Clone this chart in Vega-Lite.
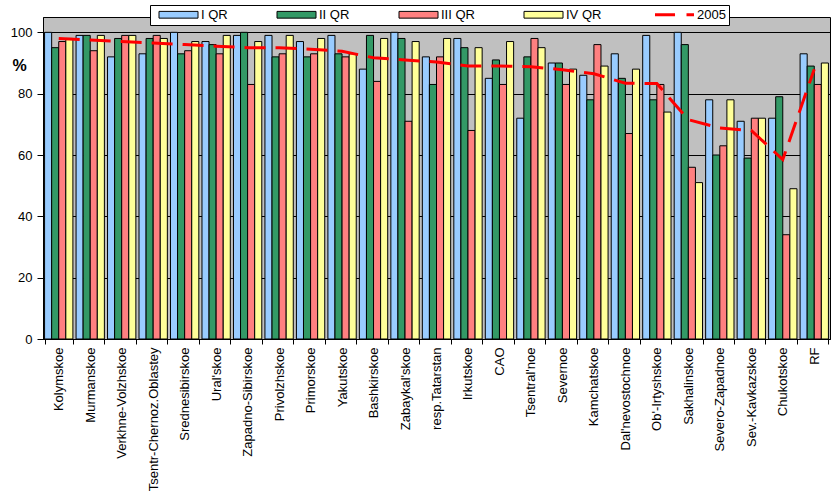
{
  "$schema": "https://vega.github.io/schema/vega-lite/v6.json",
  "width": 787,
  "height": 322,
  "autosize": {"type": "none"},
  "padding": {"left": 43, "top": 17, "right": 5, "bottom": 160},
  "background": "white",
  "config": {
    "font": "Liberation Sans",
    "view": {"fill": "#C0C0C0", "stroke": "black", "strokeWidth": 1},
    "axis": {
      "labelFont": "Liberation Sans",
      "labelFontSize": 13,
      "labelColor": "black",
      "domainColor": "black",
      "tickColor": "black",
      "gridColor": "black",
      "gridOpacity": 1,
      "titleColor": "black"
    }
  },
  "datasets": {
    "bars": [
      {"region": "Kolymskoe", "quarter": "I QR", "value": 100},
      {"region": "Kolymskoe", "quarter": "II QR", "value": 95},
      {"region": "Kolymskoe", "quarter": "III QR", "value": 97},
      {"region": "Kolymskoe", "quarter": "IV QR", "value": 98},
      {"region": "Murmanskoe", "quarter": "I QR", "value": 99},
      {"region": "Murmanskoe", "quarter": "II QR", "value": 99},
      {"region": "Murmanskoe", "quarter": "III QR", "value": 94},
      {"region": "Murmanskoe", "quarter": "IV QR", "value": 99},
      {"region": "Verkhne-Volzhskoe", "quarter": "I QR", "value": 92},
      {"region": "Verkhne-Volzhskoe", "quarter": "II QR", "value": 98},
      {"region": "Verkhne-Volzhskoe", "quarter": "III QR", "value": 99},
      {"region": "Verkhne-Volzhskoe", "quarter": "IV QR", "value": 99},
      {"region": "Tsentr-Chernoz.Oblastey", "quarter": "I QR", "value": 93},
      {"region": "Tsentr-Chernoz.Oblastey", "quarter": "II QR", "value": 98},
      {"region": "Tsentr-Chernoz.Oblastey", "quarter": "III QR", "value": 99},
      {"region": "Tsentr-Chernoz.Oblastey", "quarter": "IV QR", "value": 98},
      {"region": "Srednesibirskoe", "quarter": "I QR", "value": 100},
      {"region": "Srednesibirskoe", "quarter": "II QR", "value": 93},
      {"region": "Srednesibirskoe", "quarter": "III QR", "value": 94},
      {"region": "Srednesibirskoe", "quarter": "IV QR", "value": 97},
      {"region": "Ural'skoe", "quarter": "I QR", "value": 97},
      {"region": "Ural'skoe", "quarter": "II QR", "value": 96},
      {"region": "Ural'skoe", "quarter": "III QR", "value": 93},
      {"region": "Ural'skoe", "quarter": "IV QR", "value": 99},
      {"region": "Zapadno-Sibirskoe", "quarter": "I QR", "value": 99},
      {"region": "Zapadno-Sibirskoe", "quarter": "II QR", "value": 100},
      {"region": "Zapadno-Sibirskoe", "quarter": "III QR", "value": 83},
      {"region": "Zapadno-Sibirskoe", "quarter": "IV QR", "value": 97},
      {"region": "Privolzhskoe", "quarter": "I QR", "value": 99},
      {"region": "Privolzhskoe", "quarter": "II QR", "value": 92},
      {"region": "Privolzhskoe", "quarter": "III QR", "value": 93},
      {"region": "Privolzhskoe", "quarter": "IV QR", "value": 99},
      {"region": "Primorskoe", "quarter": "I QR", "value": 97},
      {"region": "Primorskoe", "quarter": "II QR", "value": 92},
      {"region": "Primorskoe", "quarter": "III QR", "value": 93},
      {"region": "Primorskoe", "quarter": "IV QR", "value": 98},
      {"region": "Yakutskoe", "quarter": "I QR", "value": 99},
      {"region": "Yakutskoe", "quarter": "II QR", "value": 93},
      {"region": "Yakutskoe", "quarter": "III QR", "value": 92},
      {"region": "Yakutskoe", "quarter": "IV QR", "value": 93},
      {"region": "Bashkirskoe", "quarter": "I QR", "value": 88},
      {"region": "Bashkirskoe", "quarter": "II QR", "value": 99},
      {"region": "Bashkirskoe", "quarter": "III QR", "value": 84},
      {"region": "Bashkirskoe", "quarter": "IV QR", "value": 98},
      {"region": "Zabaykal'skoe", "quarter": "I QR", "value": 100},
      {"region": "Zabaykal'skoe", "quarter": "II QR", "value": 98},
      {"region": "Zabaykal'skoe", "quarter": "III QR", "value": 71},
      {"region": "Zabaykal'skoe", "quarter": "IV QR", "value": 97},
      {"region": "resp.Tatarstan", "quarter": "I QR", "value": 92},
      {"region": "resp.Tatarstan", "quarter": "II QR", "value": 83},
      {"region": "resp.Tatarstan", "quarter": "III QR", "value": 92},
      {"region": "resp.Tatarstan", "quarter": "IV QR", "value": 98},
      {"region": "Irkutskoe", "quarter": "I QR", "value": 98},
      {"region": "Irkutskoe", "quarter": "II QR", "value": 95},
      {"region": "Irkutskoe", "quarter": "III QR", "value": 68},
      {"region": "Irkutskoe", "quarter": "IV QR", "value": 95},
      {"region": "CAO", "quarter": "I QR", "value": 85},
      {"region": "CAO", "quarter": "II QR", "value": 91},
      {"region": "CAO", "quarter": "III QR", "value": 83},
      {"region": "CAO", "quarter": "IV QR", "value": 97},
      {"region": "Tsentral'noe", "quarter": "I QR", "value": 72},
      {"region": "Tsentral'noe", "quarter": "II QR", "value": 92},
      {"region": "Tsentral'noe", "quarter": "III QR", "value": 98},
      {"region": "Tsentral'noe", "quarter": "IV QR", "value": 95},
      {"region": "Severnoe", "quarter": "I QR", "value": 90},
      {"region": "Severnoe", "quarter": "II QR", "value": 90},
      {"region": "Severnoe", "quarter": "III QR", "value": 83},
      {"region": "Severnoe", "quarter": "IV QR", "value": 88},
      {"region": "Kamchatskoe", "quarter": "I QR", "value": 86},
      {"region": "Kamchatskoe", "quarter": "II QR", "value": 78},
      {"region": "Kamchatskoe", "quarter": "III QR", "value": 96},
      {"region": "Kamchatskoe", "quarter": "IV QR", "value": 89},
      {"region": "Dal'nevostochnoe", "quarter": "I QR", "value": 93},
      {"region": "Dal'nevostochnoe", "quarter": "II QR", "value": 85},
      {"region": "Dal'nevostochnoe", "quarter": "III QR", "value": 67},
      {"region": "Dal'nevostochnoe", "quarter": "IV QR", "value": 88},
      {"region": "Ob'-Irtyshskoe", "quarter": "I QR", "value": 99},
      {"region": "Ob'-Irtyshskoe", "quarter": "II QR", "value": 78},
      {"region": "Ob'-Irtyshskoe", "quarter": "III QR", "value": 83},
      {"region": "Ob'-Irtyshskoe", "quarter": "IV QR", "value": 74},
      {"region": "Sakhalinskoe", "quarter": "I QR", "value": 100},
      {"region": "Sakhalinskoe", "quarter": "II QR", "value": 96},
      {"region": "Sakhalinskoe", "quarter": "III QR", "value": 56},
      {"region": "Sakhalinskoe", "quarter": "IV QR", "value": 51},
      {"region": "Severo-Zapadnoe", "quarter": "I QR", "value": 78},
      {"region": "Severo-Zapadnoe", "quarter": "II QR", "value": 60},
      {"region": "Severo-Zapadnoe", "quarter": "III QR", "value": 63},
      {"region": "Severo-Zapadnoe", "quarter": "IV QR", "value": 78},
      {"region": "Sev.-Kavkazskoe", "quarter": "I QR", "value": 71},
      {"region": "Sev.-Kavkazskoe", "quarter": "II QR", "value": 59},
      {"region": "Sev.-Kavkazskoe", "quarter": "III QR", "value": 72},
      {"region": "Sev.-Kavkazskoe", "quarter": "IV QR", "value": 72},
      {"region": "Chukotskoe", "quarter": "I QR", "value": 72},
      {"region": "Chukotskoe", "quarter": "II QR", "value": 79},
      {"region": "Chukotskoe", "quarter": "III QR", "value": 34},
      {"region": "Chukotskoe", "quarter": "IV QR", "value": 49},
      {"region": "RF", "quarter": "I QR", "value": 93},
      {"region": "RF", "quarter": "II QR", "value": 89},
      {"region": "RF", "quarter": "III QR", "value": 83},
      {"region": "RF", "quarter": "IV QR", "value": 90}
    ],
    "y2005": [
      {"region": "Kolymskoe", "value": 98},
      {"region": "Murmanskoe", "value": 97.5},
      {"region": "Verkhne-Volzhskoe", "value": 97},
      {"region": "Tsentr-Chernoz.Oblastey", "value": 96.5},
      {"region": "Srednesibirskoe", "value": 96},
      {"region": "Ural'skoe", "value": 95.5},
      {"region": "Zapadno-Sibirskoe", "value": 95},
      {"region": "Privolzhskoe", "value": 95},
      {"region": "Primorskoe", "value": 94.5},
      {"region": "Yakutskoe", "value": 93.8},
      {"region": "Bashkirskoe", "value": 91.7},
      {"region": "Zabaykal'skoe", "value": 91},
      {"region": "resp.Tatarstan", "value": 90.3},
      {"region": "Irkutskoe", "value": 89},
      {"region": "CAO", "value": 89},
      {"region": "Tsentral'noe", "value": 88.8},
      {"region": "Severnoe", "value": 87.8},
      {"region": "Kamchatskoe", "value": 86.5},
      {"region": "Dal'nevostochnoe", "value": 83.4},
      {"region": "Ob'-Irtyshskoe", "value": 83.3},
      {"region": "Sakhalinskoe", "value": 71.5},
      {"region": "Severo-Zapadnoe", "value": 68.8},
      {"region": "Sev.-Kavkazskoe", "value": 68},
      {"region": "Chukotskoe", "value": 58.5},
      {"region": "RF", "value": 88}
    ]
  },
  "layer": [
    {
      "data": {"name": "bars"},
      "mark": {"type": "bar", "stroke": "black", "strokeWidth": 1, "opacity": 1},
      "encoding": {
        "x": {
          "field": "region",
          "type": "nominal",
          "sort": ["Kolymskoe","Murmanskoe","Verkhne-Volzhskoe","Tsentr-Chernoz.Oblastey","Srednesibirskoe","Ural'skoe","Zapadno-Sibirskoe","Privolzhskoe","Primorskoe","Yakutskoe","Bashkirskoe","Zabaykal'skoe","resp.Tatarstan","Irkutskoe","CAO","Tsentral'noe","Severnoe","Kamchatskoe","Dal'nevostochnoe","Ob'-Irtyshskoe","Sakhalinskoe","Severo-Zapadnoe","Sev.-Kavkazskoe","Chukotskoe","RF"],
          "scale": {"paddingInner": 0.1, "paddingOuter": 0.05},
          "axis": {
            "title": null,
            "labelAngle": -90,
            "tickBand": "extent",
            "tickSize": 5,
            "labelPadding": 3,
            "grid": false,
            "labelLimit": 300
          }
        },
        "xOffset": {
          "field": "quarter",
          "type": "nominal",
          "sort": ["I QR", "II QR", "III QR", "IV QR"],
          "scale": {"paddingInner": 0, "paddingOuter": 0}
        },
        "y": {
          "field": "value",
          "type": "quantitative",
          "scale": {"domain": [0, 105], "nice": false},
          "axis": {
            "title": "%",
            "titleAngle": 0,
            "titleFontWeight": "bold",
            "titleFontSize": 16,
            "titleX": -24,
            "titleY": 48,
            "titleAlign": "center",
            "titleBaseline": "middle",
            "values": [0, 20, 40, 60, 80, 100],
            "tickSize": 6,
            "labelPadding": 5,
            "grid": true
          }
        },
        "color": {
          "field": "quarter",
          "type": "nominal",
          "scale": {
            "domain": ["I QR", "II QR", "III QR", "IV QR", "2005"],
            "range": ["#99CCFF", "#339966", "#FF8080", "#FFFF99", "#FF0000"]
          },
          "legend": {
            "orient": "none",
            "legendX": 107,
            "legendY": -12,
            "direction": "horizontal",
            "title": " ",
            "titleOrient": "left",
            "titlePadding": 19,
            "titleFontSize": 13,
            "fillColor": "white",
            "strokeColor": "black",
            "padding": 3,
            "labelFont": "Liberation Sans",
            "labelFontSize": 13,
            "labelColor": "black",
            "labelExpr": "datum.label === '2005' ? '2005\u00a0\u00a0\u00a0\u00a0\u00a0\u00a0\u00a0' : datum.label",
            "symbolSize": 225,
            "labelOffset": 16,
            "columnPadding": 47,
            "symbolStrokeColor": "black",
            "symbolStrokeWidth": 1,
            "symbolOpacity": 1,
            "encode": {
              "symbols": {
                "update": {
                  "shape": {"signal": "datum.value === '2005' ? 'M-2.6,0H0.07M1.6,0H2.6' : 'M-2.6,-0.45H2.6V0.45H-2.6Z'"},
                  "stroke": {"signal": "datum.value === '2005' ? '#FF0000' : 'black'"},
                  "strokeWidth": {"signal": "datum.value === '2005' ? 3 : 1"},
                  "fillOpacity": {"signal": "datum.value === '2005' ? 0 : 1"}
                }
              }
            }
          }
        }
      }
    },
    {
      "data": {"name": "y2005"},
      "mark": {"type": "line", "color": "#FF0000", "strokeWidth": 3, "strokeDash": [21, 10]},
      "encoding": {
        "x": {
          "field": "region",
          "type": "nominal",
          "sort": ["Kolymskoe","Murmanskoe","Verkhne-Volzhskoe","Tsentr-Chernoz.Oblastey","Srednesibirskoe","Ural'skoe","Zapadno-Sibirskoe","Privolzhskoe","Primorskoe","Yakutskoe","Bashkirskoe","Zabaykal'skoe","resp.Tatarstan","Irkutskoe","CAO","Tsentral'noe","Severnoe","Kamchatskoe","Dal'nevostochnoe","Ob'-Irtyshskoe","Sakhalinskoe","Severo-Zapadnoe","Sev.-Kavkazskoe","Chukotskoe","RF"]
        },
        "y": {"field": "value", "type": "quantitative"}
      }
    }
  ]
}
